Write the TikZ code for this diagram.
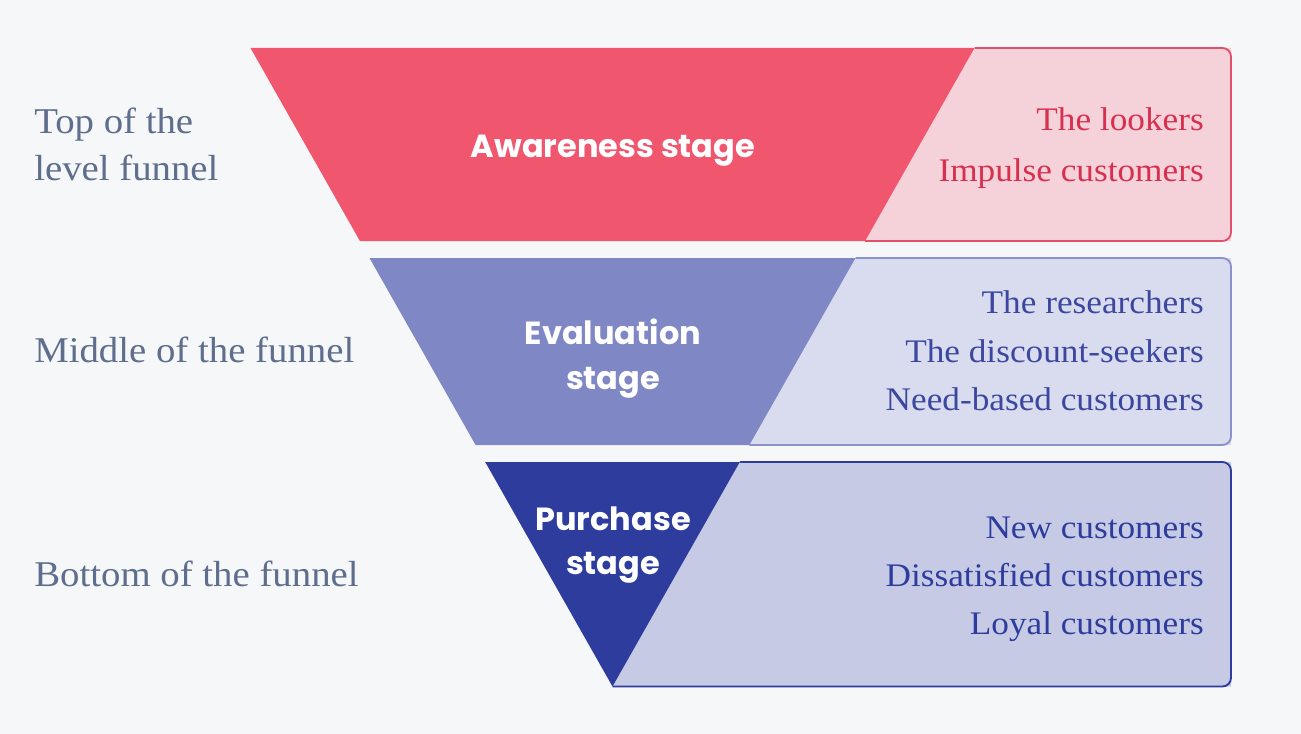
\documentclass[tikz,border=0pt]{standalone}
\usepackage{fontspec}
\setmainfont{Liberation Serif}[FakeStretch=1.07]
\newfontfamily\stagefont{Poppins}
\definecolor{bg}{HTML}{F5F7F9}
\definecolor{redfill}{HTML}{F0576F}
\definecolor{redbox}{HTML}{F5D1D9}
\definecolor{redline}{HTML}{E4506B}
\definecolor{redtext}{HTML}{D7304F}
\definecolor{midfill}{HTML}{7F88C4}
\definecolor{midbox}{HTML}{D9DCEE}
\definecolor{midline}{HTML}{8A91CB}
\definecolor{midtext}{HTML}{3C479F}
\definecolor{botfill}{HTML}{2E3D9D}
\definecolor{botbox}{HTML}{C6CAE5}
\definecolor{botline}{HTML}{2E3D9D}
\definecolor{bottext}{HTML}{2E3D9D}
\definecolor{leftgray}{HTML}{5E6E8C}
\begin{document}
\begin{tikzpicture}[x=0.75pt,y=-0.75pt,
  stagelabel/.style={text=white,align=center,font=\stagefont\bfseries\fontsize{24}{33.5}\selectfont,inner sep=0pt},
  leveltext/.style={anchor=west,align=left,text=leftgray,font=\fontsize{27.2}{35.3}\selectfont,inner sep=0pt},
  itemtext/.style={anchor=base east,inner sep=0pt,font=\fontsize{24.7}{36.4}\selectfont},
  boxline/.style={line width=1.4pt,rounded corners=6.5pt}]
\fill[bg] (0,0) rectangle (1301,734);
\useasboundingbox (0,0) rectangle (1301,734);
% ---------- band 1
\fill[redbox] (974.5,48) -- (1231,48) -- (1231,241) -- (865.1,241) -- cycle;
\draw[redline,boxline] (974.5,48) -- (1231,48) -- (1231,241) -- (865.1,241);
\fill[redfill] (250.5,48) -- (974.5,48) -- (865.1,241) -- (359.9,241) -- cycle;
% ---------- band 2
\fill[midbox] (855.5,258) -- (1231,258) -- (1231,445) -- (749.4,445) -- cycle;
\draw[midline,boxline] (855.5,258) -- (1231,258) -- (1231,445) -- (749.4,445);
\fill[midfill] (369.5,258) -- (855.5,258) -- (749.4,445) -- (475.6,445) -- cycle;
% ---------- band 3
\fill[botbox] (739.8,462) -- (1231,462) -- (1231,686.5) -- (612.5,686.5) -- cycle;
\draw[botline,boxline] (739.8,462) -- (1231,462) -- (1231,686.5) -- (612.5,686.5);
\fill[botfill] (485.2,462) -- (739.8,462) -- (612.5,686.5) -- cycle;
% ---------- stage labels
\node[stagelabel] (aw) at (613,151) {Awareness stage};
\node[stagelabel] (ev) at (613,358.5) {Evaluation\\stage};
\node[stagelabel] (pu) at (613,545) {Purchase\\stage};
% ---------- left labels
\node[leveltext] (top) at (34,144) {Top of the\\level funnel};
\node[leveltext] (mid) at (34,350) {Middle of the funnel};
\node[leveltext] (bot) at (34,574) {Bottom of the funnel};
% ---------- right items
\node[itemtext,text=redtext] (i1) at (1204,130.5) {The lookers};
\node[itemtext,text=redtext] (i2) at (1204,182) {Impulse customers};
\node[itemtext,text=midtext] (i3) at (1204,313) {The researchers};
\node[itemtext,text=midtext] (i4) at (1204,362) {The discount-seekers};
\node[itemtext,text=midtext] (i5) at (1204,410) {Need-based customers};
\node[itemtext,text=bottext] (i6) at (1204,538) {New customers};
\node[itemtext,text=bottext] (i7) at (1204,586) {Dissatisfied customers};
\node[itemtext,text=bottext] (i8) at (1204,634) {Loyal customers};
\end{tikzpicture}
\end{document}
